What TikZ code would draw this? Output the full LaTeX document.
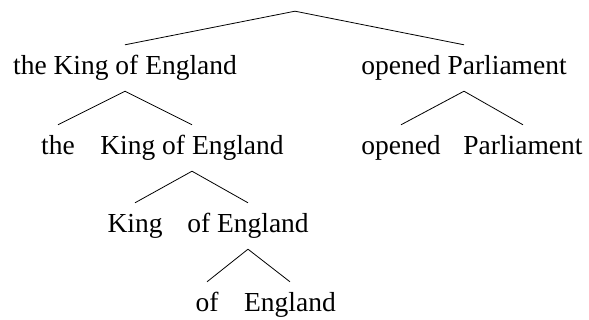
\documentclass[tikz,border=0pt]{standalone}
\usepackage{fontspec}
\setmainfont{Liberation Serif}
\begin{document}
\begin{tikzpicture}[x=1pt,y=-1pt,
  lab/.style={anchor=base,inner sep=0pt,text height=30pt,text depth=16pt,
    font=\fontsize{27.5}{33}\selectfont},
  edge/.style={line width=0.8pt}]
\useasboundingbox (0,0) rectangle (589,320);
\node[lab] (r) at (295,-5) {the King of England opened Parliament};
\node[lab] (a) at (125,75) {the King of England};
\node[lab] (b) at (464,75) {opened Parliament};
\node[lab] (a1) at (58,155) {the};
\node[lab] (a2) at (192,155) {King of England};
\node[lab] (b1) at (401,155) {opened};
\node[lab] (b2) at (523,155) {Parliament};
\node[lab] (c1) at (135,233) {King};
\node[lab] (c2) at (248,233) {of England};
\node[lab] (d1) at (207,312) {of};
\node[lab] (d2) at (290,312) {England};
\foreach \p/\c in {r/a,r/b,a/a1,a/a2,b/b1,b/b2,a2/c1,a2/c2,c2/d1,c2/d2}
  \draw[edge] (\p.south) -- (\c.north);
\end{tikzpicture}
\end{document}
